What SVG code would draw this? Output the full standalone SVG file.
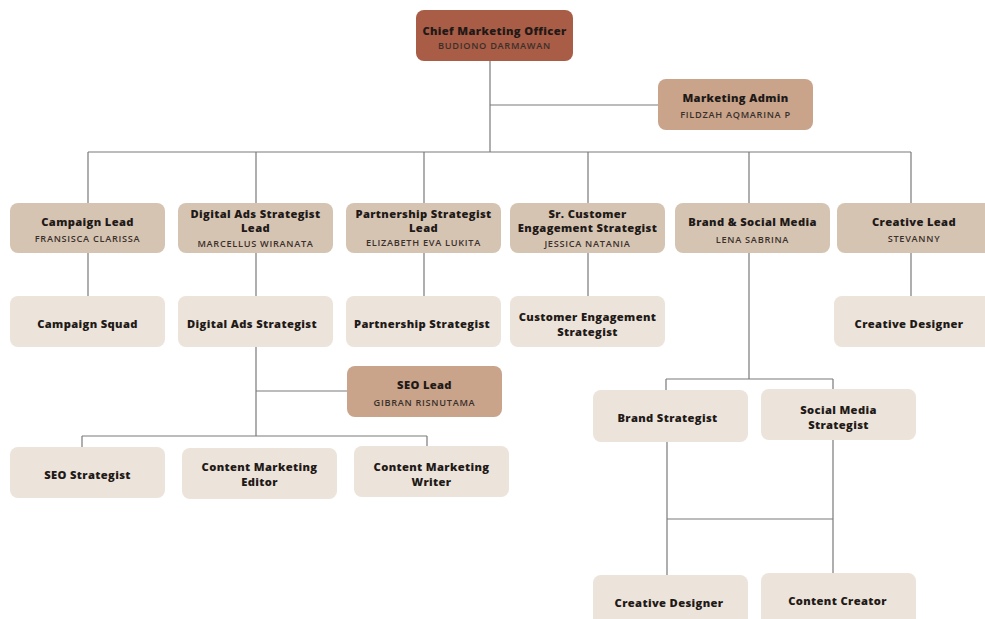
<svg xmlns="http://www.w3.org/2000/svg" width="985" height="619" viewBox="0 0 985 619">
<style>
.t{font-family:"Open Sans","Liberation Sans",sans-serif;font-weight:800;font-size:11.2px;fill:#1f1a17;text-anchor:middle;letter-spacing:0.35px}
.n{font-family:"Open Sans","Liberation Sans",sans-serif;font-weight:600;font-size:9.2px;fill:#3a302b;text-anchor:middle;letter-spacing:0.7px}
.top{fill:#A95C46}
.adm{fill:#C9A38A}
.lead{fill:#D6C4B3}
.sub{fill:#ECE3DA}
.ln{stroke:#7a7a7a;stroke-width:1.2;fill:none}
</style>
<rect width="985" height="619" fill="#ffffff"/>
<g id="connectors">
<path class="ln" d="M490 61V152M490 105H658M88 152H911M88 152V203M256 152V203M424 152V203M588 152V203M749 152V203M911 152V203"/>
<path class="ln" d="M88 253V296M256 253V296M424 253V296M588 253V296M911 253V296"/>
<path class="ln" d="M256 347V436M256 391H347M82 436H427M82 436V447M427 436V446"/>
<path class="ln" d="M749 253V379M666 379H833M666 379V390M833 379V389M667 442V575M833 440V573M667 519H833"/>
</g>
<g id="cmo"><rect class="top" x="416" y="10" width="157" height="51" rx="8"/><text class="t" x="494.5" y="35">Chief Marketing Officer</text><text class="n" x="494.5" y="49">BUDIONO DARMAWAN</text></g>
<g id="admin"><rect class="adm" x="658" y="79" width="155" height="51" rx="8"/><text class="t" x="735.5" y="102">Marketing Admin</text><text class="n" x="735.5" y="118">FILDZAH AQMARINA P</text></g>
<g id="campaign-lead"><rect class="lead" x="10" y="203" width="155" height="50" rx="8"/><text class="t" x="87.5" y="226">Campaign Lead</text><text class="n" x="87.5" y="242">FRANSISCA CLARISSA</text></g>
<g id="digital-ads-lead"><rect class="lead" x="178" y="203" width="155" height="50" rx="8"/><text class="t" x="255.5" y="218">Digital Ads Strategist</text><text class="t" x="255.5" y="232">Lead</text><text class="n" x="255.5" y="247">MARCELLUS WIRANATA</text></g>
<g id="partnership-lead"><rect class="lead" x="346" y="203" width="155" height="50" rx="8"/><text class="t" x="423.5" y="218">Partnership Strategist</text><text class="t" x="423.5" y="232">Lead</text><text class="n" x="423.5" y="246">ELIZABETH EVA LUKITA</text></g>
<g id="sr-customer"><rect class="lead" x="510" y="203" width="155" height="50" rx="8"/><text class="t" x="587.5" y="218">Sr. Customer</text><text class="t" x="587.5" y="232">Engagement Strategist</text><text class="n" x="587.5" y="247">JESSICA NATANIA</text></g>
<g id="brand-social"><rect class="lead" x="675" y="203" width="155" height="50" rx="8"/><text class="t" x="752.5" y="226">Brand &amp; Social Media</text><text class="n" x="752.5" y="243">LENA SABRINA</text></g>
<g id="creative-lead"><rect class="lead" x="837" y="203" width="160" height="50" rx="8"/><text class="t" x="914" y="226">Creative Lead</text><text class="n" x="914" y="242">STEVANNY</text></g>
<g id="campaign-squad"><rect class="sub" x="10" y="296" width="155" height="51" rx="8"/><text class="t" x="87.5" y="328">Campaign Squad</text></g>
<g id="digital-ads-strategist"><rect class="sub" x="178" y="296" width="155" height="51" rx="8"/><text class="t" x="252" y="328">Digital Ads Strategist</text></g>
<g id="partnership-strategist"><rect class="sub" x="346" y="296" width="155" height="51" rx="8"/><text class="t" x="422" y="328">Partnership Strategist</text></g>
<g id="customer-engagement"><rect class="sub" x="510" y="296" width="155" height="51" rx="8"/><text class="t" x="587.5" y="321">Customer Engagement</text><text class="t" x="587.5" y="336">Strategist</text></g>
<g id="creative-designer-1"><rect class="sub" x="834" y="296" width="160" height="51" rx="8"/><text class="t" x="909" y="328">Creative Designer</text></g>
<g id="seo-lead"><rect class="adm" x="347" y="366" width="155" height="51" rx="8"/><text class="t" x="424.5" y="389">SEO Lead</text><text class="n" x="424.5" y="406">GIBRAN RISNUTAMA</text></g>
<g id="seo-strategist"><rect class="sub" x="10" y="447" width="155" height="51" rx="8"/><text class="t" x="87.5" y="479">SEO Strategist</text></g>
<g id="content-editor"><rect class="sub" x="182" y="448" width="155" height="51" rx="8"/><text class="t" x="259.5" y="471">Content Marketing</text><text class="t" x="259.5" y="486">Editor</text></g>
<g id="content-writer"><rect class="sub" x="354" y="446" width="155" height="51" rx="8"/><text class="t" x="431.5" y="471">Content Marketing</text><text class="t" x="431.5" y="486">Writer</text></g>
<g id="brand-strategist"><rect class="sub" x="593" y="390" width="155" height="52" rx="8"/><text class="t" x="667.5" y="422">Brand Strategist</text></g>
<g id="social-strategist"><rect class="sub" x="761" y="389" width="155" height="51" rx="8"/><text class="t" x="838.5" y="414">Social Media</text><text class="t" x="838.5" y="429">Strategist</text></g>
<g id="creative-designer-2"><rect class="sub" x="593" y="575" width="155" height="60" rx="8"/><text class="t" x="669" y="607">Creative Designer</text></g>
<g id="content-creator"><rect class="sub" x="761" y="573" width="155" height="60" rx="8"/><text class="t" x="837.5" y="605">Content Creator</text></g>
</svg>
